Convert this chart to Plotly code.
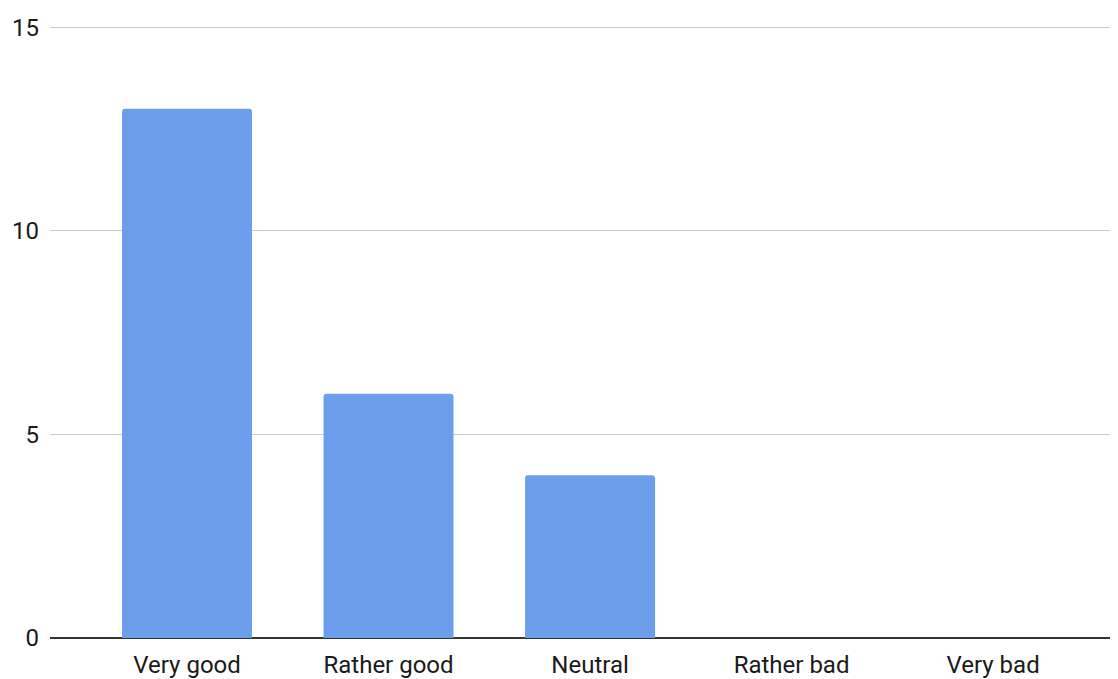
import plotly.graph_objects as go

categories = ["Very good", "Rather good", "Neutral", "Rather bad", "Very bad"]
counts = [13, 6, 4, 0, 0]
y_ticks = [0, 5, 10, 15]

fig = go.Figure(go.Bar(
    x=categories, y=counts,
    marker=dict(color="#6d9eeb", line=dict(width=0), cornerradius=3),
    width=0.645,
))

fig.update_layout(
    width=1110, height=671,
    margin=dict(l=42, r=0, t=18, b=41, autoexpand=False),
    paper_bgcolor="white", plot_bgcolor="white",
    font=dict(family="Roboto", size=24, color="#1a1a1a"),
    showlegend=False,
    xaxis=dict(range=[-0.68, 4.62], showgrid=False, ticks="", showline=False,
               tickfont=dict(size=24, color="#1a1a1a"), automargin=False,
               ticklabelstandoff=10),
    yaxis=dict(range=[0, 15.03], tickvals=y_ticks, showgrid=True, gridcolor="#cccccc",
               gridwidth=1, zeroline=True, zerolinecolor="#333333", zerolinewidth=2,
               ticks="", showline=False, tickfont=dict(size=24, color="#1a1a1a"),
               automargin=False, ticklabelstandoff=10),
)

fig.write_html("out.html")
